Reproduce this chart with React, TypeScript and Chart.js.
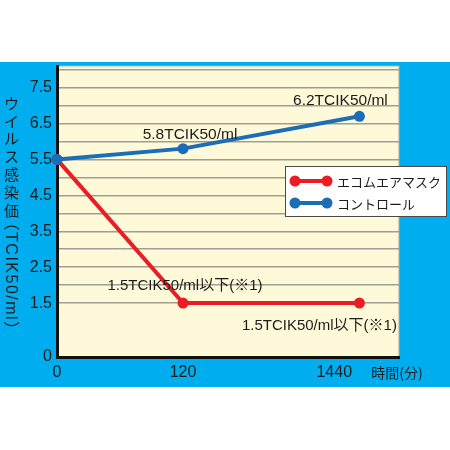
import React, { useEffect, useRef } from 'react';
import { Chart, registerables } from 'chart.js';

Chart.register(...registerables);

// ---- data ----
const timeLabels = ['0', '120', '1440'];
// schematic (not-to-scale) placement of each time point along the x axis
const timeSlots = [0, 1, 2.4];
const timeLabelSlots = [0, 1, 2.2];
const seriesNames = ['エコムエアマスク', 'コントロール'];
const maskValues = [5.5, 1.5, 1.5];
const controlValues = [5.5, 5.8, 6.7];
const maskNotes = ['', '1.5TCIK50/ml以下(※1)', '1.5TCIK50/ml以下(※1)'];
const controlNotes = ['', '5.8TCIK50/ml', '6.2TCIK50/ml'];
const yTickValues = [0, 1.5, 2, 2.5, 3, 3.5, 4, 4.5, 5, 5.5, 6, 6.5, 7, 7.5, 8];
const yLabeledTicks = [0, 1.5, 2.5, 3.5, 4.5, 5.5, 6.5, 7.5];
const xAxisTitle = '時間(分)';
const yTitleUpright = 'ウイルス感染価';
const yTitleRotated = '（TCIK50/ml）';

const RED = '#ec1c24';
const BLUE = '#1b6db8';
const TEXT = '#1e1b1c';
const LATIN = "'Liberation Sans', Arial, 'Noto Sans CJK JP', sans-serif";
const CJK = "'Noto Sans CJK JP', 'Liberation Sans', sans-serif";

const backgroundPlugin = {
  id: 'bgPanel',
  beforeDraw(chart: any) {
    const { ctx, chartArea: a, width, height } = chart;
    ctx.save();
    ctx.fillStyle = '#ffffff';
    ctx.fillRect(0, 0, width, height);
    ctx.fillStyle = '#00aeef';
    ctx.fillRect(0, a.top - 4, width, a.bottom - a.top + 34);
    ctx.fillStyle = '#fefad9';
    ctx.fillRect(a.left, a.top, a.right - a.left, a.bottom - a.top);
    ctx.strokeStyle = '#d9d6c4';
    ctx.lineWidth = 1.5;
    ctx.beginPath();
    ctx.moveTo(a.left, a.top + 0.5);
    ctx.lineTo(a.right - 0.5, a.top + 0.5);
    ctx.lineTo(a.right - 0.5, a.bottom);
    ctx.stroke();
    ctx.restore();
  },
};

const titlesPlugin = {
  id: 'axisTitles',
  afterDraw(chart: any) {
    const { ctx, chartArea: a } = chart;
    ctx.save();
    ctx.fillStyle = TEXT;
    // x axis title, on the tick-label row at the right end
    ctx.font = `14px ${CJK}`;
    ctx.textAlign = 'center';
    ctx.textBaseline = 'middle';
    ctx.fillText(xAxisTitle, a.right - 2, a.bottom + 16);
    // y axis title, vertical writing
    ctx.font = `15px ${CJK}`;
    const cx = 11.5;
    let y = a.top + 37;
    for (const ch of yTitleUpright) {
      ctx.fillText(ch, cx, y);
      y += 17.8;
    }
    ctx.translate(cx - 1, y - 13);
    ctx.rotate(Math.PI / 2);
    ctx.textAlign = 'left';
    ctx.font = `16px ${LATIN}`;
    (ctx as any).letterSpacing = '1.5px';
    ctx.fillText(yTitleRotated, 0, 0);
    ctx.restore();
  },
};

const notesPlugin = {
  id: 'pointNotes',
  afterDatasetsDraw(chart: any) {
    const { ctx } = chart;
    const notes = [maskNotes, controlNotes];
    const offsets = [
      [[0, 0], [2, -13], [-40, 27]],
      [[0, 0], [7, -10], [-19, -11]],
    ];
    ctx.save();
    ctx.fillStyle = TEXT;
    ctx.textAlign = 'center';
    ctx.textBaseline = 'alphabetic';
    notes.forEach((list, di) => {
      const meta = chart.getDatasetMeta(di);
      ctx.font = di === 0 ? `15px ${LATIN}` : `15.5px ${LATIN}`;
      list.forEach((txt, i) => {
        if (!txt) return;
        const p = meta.data[i];
        ctx.fillText(txt, p.x + offsets[di][i][0], p.y + offsets[di][i][1]);
      });
    });
    ctx.restore();
  },
};

const legendPlugin = {
  id: 'boxLegend',
  afterDraw(chart: any) {
    const { ctx, chartArea: a } = chart;
    const left = a.right - 114;
    const top = a.top + 100;
    const w = 162;
    const h = 51;
    ctx.save();
    ctx.fillStyle = '#ffffff';
    ctx.fillRect(left, top, w, h);
    ctx.strokeStyle = '#4a4a4a';
    ctx.lineWidth = 1;
    ctx.strokeRect(left + 0.5, top + 0.5, w - 1, h - 1);
    chart.data.datasets.forEach((ds: any, i: number) => {
      const y = top + 15 + i * 22;
      ctx.strokeStyle = ds.borderColor;
      ctx.lineWidth = 4;
      ctx.beginPath();
      ctx.moveTo(left + 10, y);
      ctx.lineTo(left + 42, y);
      ctx.stroke();
      ctx.fillStyle = ds.borderColor;
      [left + 10, left + 42].forEach((x) => {
        ctx.beginPath();
        ctx.arc(x, y, 5.5, 0, Math.PI * 2);
        ctx.fill();
      });
      ctx.fillStyle = TEXT;
      ctx.font = `13px ${CJK}`;
      ctx.textAlign = 'left';
      ctx.textBaseline = 'middle';
      ctx.fillText(ds.label, left + 52, y + 1);
    });
    ctx.restore();
  },
};

export default function App() {
  const ref = useRef<HTMLCanvasElement | null>(null);

  useEffect(() => {
    if (!ref.current) return;
    const mk = (vals: number[]) => timeSlots.map((x, i) => ({ x, y: vals[i] }));
    const chart = new Chart(ref.current, {
      type: 'line',
      data: {
        datasets: [
          {
            label: seriesNames[0],
            data: mk(maskValues),
            borderColor: RED,
            backgroundColor: RED,
            borderWidth: 4,
            pointRadius: 5.5,
            pointBackgroundColor: RED,
            pointBorderWidth: 0,
            tension: 0,
            order: 2,
            clip: false as any,
          },
          {
            label: seriesNames[1],
            data: mk(controlValues),
            borderColor: BLUE,
            backgroundColor: BLUE,
            borderWidth: 4,
            pointRadius: 5.5,
            pointBackgroundColor: BLUE,
            pointBorderWidth: 0,
            tension: 0,
            order: 1,
            clip: false as any,
          },
        ],
      },
      options: {
        animation: false,
        responsive: false,
        devicePixelRatio: 1,
        layout: { padding: { top: 66, right: 51, left: 0, bottom: 0 } },
        plugins: { legend: { display: false }, tooltip: { enabled: false } },
        events: [],
        scales: {
          x: {
            type: 'linear',
            min: 0,
            max: 2.714,
            grid: { display: false, drawTicks: false },
            border: { display: true, color: '#111111', width: 3 },
            afterBuildTicks: (s: any) => {
              s.ticks = timeLabelSlots.map((v) => ({ value: v }));
            },
            afterFit: (s: any) => {
              s.height = 93;
            },
            ticks: {
              autoSkip: false,
              maxRotation: 0,
              padding: 6,
              color: TEXT,
              font: { family: LATIN, size: 16 },
              callback: (_v: any, i: number) => timeLabels[i] ?? '',
            },
          },
          y: {
            type: 'linear',
            min: 0,
            max: 8.1,
            grid: {
              drawTicks: false,
              lineWidth: 1.5,
              color: (c: any) => (c.tick && c.tick.value === 0 ? 'rgba(0,0,0,0)' : '#a09e92'),
            },
            border: { display: true, color: '#111111', width: 3 },
            afterBuildTicks: (s: any) => {
              s.ticks = yTickValues.map((v) => ({ value: v }));
            },
            afterFit: (s: any) => {
              s.width = 57;
            },
            ticks: {
              autoSkip: false,
              padding: 5,
              color: TEXT,
              font: { family: LATIN, size: 16 },
              callback: (v: any) => (yLabeledTicks.includes(Number(v)) ? String(v) : ''),
            },
          },
        },
      } as any,
      plugins: [backgroundPlugin, notesPlugin, titlesPlugin, legendPlugin],
    });
    return () => chart.destroy();
  }, []);

  return (
    <div style={{ position: 'fixed', left: 0, top: 0, width: 450, height: 450, background: '#fff' }}>
      <canvas ref={ref} width={450} height={450} style={{ display: 'block', width: 450, height: 450 }} />
    </div>
  );
}
